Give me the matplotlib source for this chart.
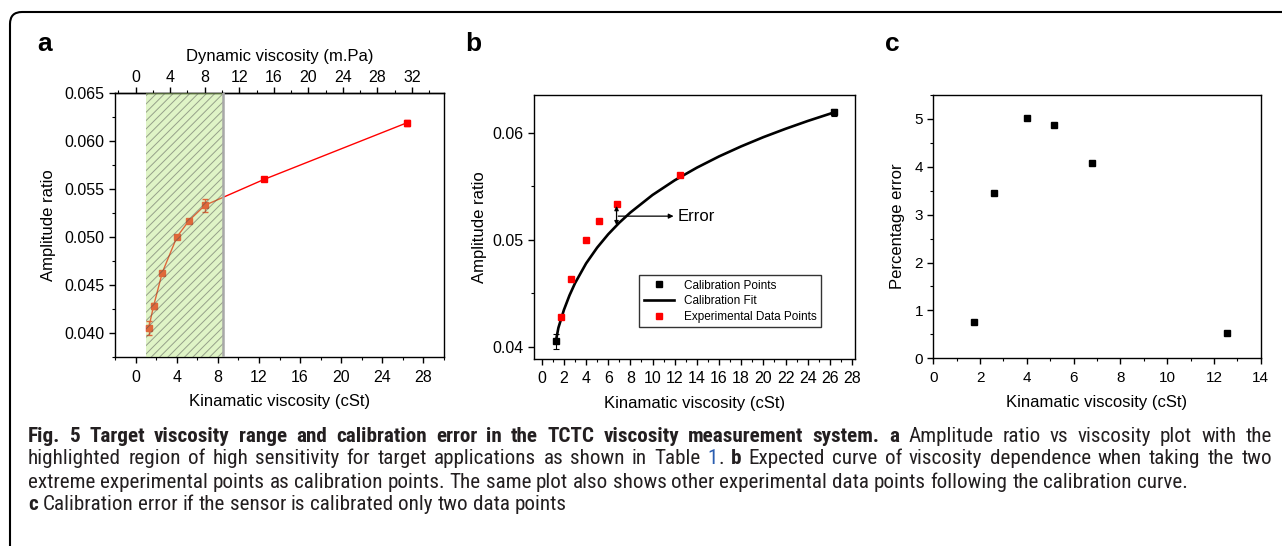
import matplotlib
matplotlib.use('Agg')
import matplotlib.pyplot as plt
from matplotlib import font_manager
from matplotlib.patches import FancyBboxPatch
from matplotlib.lines import Line2D
from matplotlib.ticker import MultipleLocator, FormatStrFormatter
from matplotlib.transforms import IdentityTransform

W, H = 1282, 546

# panel a / b data (kinematic viscosity in cSt vs amplitude ratio)
kin_visc = [1.27, 1.75, 2.6, 4.02, 5.19, 6.74, 12.5, 26.4]
amp_ratio = [0.0405, 0.0428, 0.0463, 0.0500, 0.0517, 0.0533, 0.0560, 0.0619]
amp_err = [0.0007, 0.0003, 0.0002, 0.0001, 0.0001, 0.0007, 0.0001, 0.0003]

# highlighted target range (cSt)
band_lo, band_hi = 1.04, 8.55
dyn_per_kin = 1.19  # top axis conversion

# calibration points and fit curve
calib_x = [1.27, 26.4]
calib_y = [0.0405, 0.0619]
calib_err = [0.0007, 0.0003]
exp_x = [1.75, 2.6, 4.0, 5.15, 6.75, 12.5]
exp_y = [0.0428, 0.0463, 0.0500, 0.0517, 0.0533, 0.0560]
fit_x = [1.27, 1.5, 2, 2.5, 3, 4, 5, 6, 7, 8, 10, 12, 14, 16, 18, 20, 22, 24, 26.4]
fit_y = [0.04050, 0.04176, 0.04344, 0.04479, 0.04593, 0.04778, 0.04926, 0.05051,
         0.05159, 0.05254, 0.05418, 0.05555, 0.05673, 0.05778, 0.05872, 0.05958,
         0.06036, 0.06109, 0.06190]

# panel c data
err_x = [1.75, 2.6, 4.0, 5.15, 6.78, 12.55]
pct_err = [0.75, 3.45, 5.02, 4.87, 4.08, 0.52]

plt.rcParams['font.family'] = ['Liberation Sans', 'DejaVu Sans']
plt.rcParams['hatch.linewidth'] = 0.7
plt.rcParams['axes.linewidth'] = 1.0

fig = plt.figure(figsize=(W / 100, H / 100), dpi=100)


def px_rect(left, top, right, bottom):
    return [left / W, 1 - bottom / H, (right - left) / W, (bottom - top) / H]


def style_ticks(ax, size, pad=5):
    ax.tick_params(which='major', direction='out', length=4, width=1, labelsize=size, pad=pad)
    ax.tick_params(which='minor', direction='out', length=2.2, width=0.8)


# ---------- panel a ----------
ax_a = fig.add_axes(px_rect(115, 93, 444, 357))
ax_a.plot(kin_visc, amp_ratio, color='red', lw=1, zorder=2)
ax_a.errorbar(kin_visc, amp_ratio, yerr=amp_err, fmt='s', color='red', ms=4.5,
              capsize=2, elinewidth=1, capthick=1, zorder=2)
ax_a.axvspan(band_lo, band_hi, facecolor=(0.73, 0.91, 0.51, 0.45),
             edgecolor=(0.3, 0.3, 0.3, 0.5), hatch='////', lw=0, zorder=3)
ax_a.axvline(band_hi, color='#a8a8a8', lw=1.8, zorder=3)
ax_a.set_xlim(-2, 30)
ax_a.set_ylim(0.0375, 0.065)
ax_a.set_xticks(range(0, 29, 4))
ax_a.xaxis.set_minor_locator(MultipleLocator(2))
ax_a.set_yticks([0.040, 0.045, 0.050, 0.055, 0.060, 0.065])
ax_a.yaxis.set_minor_locator(MultipleLocator(0.0025))
ax_a.yaxis.set_major_formatter(FormatStrFormatter('%.3f'))
style_ticks(ax_a, 11.5)
ax_a.tick_params(axis='y', pad=3.5)
ax_a.set_xlabel('Kinamatic viscosity (cSt)', fontsize=12, labelpad=7)
ax_a.set_ylabel('Amplitude ratio', fontsize=12, labelpad=6)

sec = ax_a.secondary_xaxis('top', functions=(lambda k: k * dyn_per_kin,
                                             lambda d: d / dyn_per_kin))
sec.set_xticks(range(0, 33, 4))
sec.xaxis.set_minor_locator(MultipleLocator(2))
style_ticks(sec, 11.5, pad=1.5)
sec.set_xlabel('Dynamic viscosity (m.Pa)', fontsize=12, labelpad=7)

# ---------- panel b ----------
ax_b = fig.add_axes(px_rect(534, 95, 855.3, 358.7))
ax_b.plot(fit_x, fit_y, color='black', lw=1.9, zorder=2)
ax_b.errorbar(calib_x, calib_y, yerr=calib_err, fmt='s', color='black', ms=4.5,
              capsize=2, elinewidth=0.8, capthick=0.8, zorder=3)
ax_b.plot(exp_x, exp_y, 's', color='red', ms=4.5, lw=0, zorder=3)
ax_b.annotate('', xy=(6.75, 0.05135), xytext=(6.75, 0.05315),
              arrowprops=dict(arrowstyle='<|-|>', color='black', lw=0.9,
                              mutation_scale=6, shrinkA=0, shrinkB=0))
ax_b.annotate('', xy=(11.9, 0.0522), xytext=(6.9, 0.0522),
              arrowprops=dict(arrowstyle='-|>', color='black', lw=0.9,
                              mutation_scale=7, shrinkA=0, shrinkB=0))
ax_b.text(12.3, 0.0522, 'Error', fontsize=12, va='center', ha='left')
ax_b.set_xlim(-0.7, 28.3)
ax_b.set_ylim(0.03888, 0.06352)
ax_b.set_xticks(range(0, 29, 2))
ax_b.xaxis.set_minor_locator(MultipleLocator(1))
ax_b.set_yticks([0.04, 0.05, 0.06])
ax_b.yaxis.set_minor_locator(MultipleLocator(0.005))
ax_b.yaxis.set_major_formatter(FormatStrFormatter('%.2f'))
style_ticks(ax_b, 11.5)
ax_b.tick_params(axis='y', pad=3.5)
ax_b.set_xlabel('Kinamatic viscosity (cSt)', fontsize=12, labelpad=7)
ax_b.set_ylabel('Amplitude ratio', fontsize=12, labelpad=4)
handles = [Line2D([], [], marker='s', color='black', lw=0, ms=4.5),
           Line2D([], [], color='black', lw=1.9),
           Line2D([], [], marker='s', color='red', lw=0, ms=4.5)]
leg = ax_b.legend(handles, ['Calibration Points', 'Calibration Fit',
                            'Experimental Data Points'],
                  loc='lower left', bbox_to_anchor=(0.328, 0.121), fontsize=8.5,
                  frameon=True, fancybox=False, edgecolor='black',
                  borderpad=0.35, labelspacing=0.3, handlelength=2.6,
                  handletextpad=0.8, borderaxespad=0)
leg.get_frame().set_linewidth(1.0)

# ---------- panel c ----------
ax_c = fig.add_axes(px_rect(933.3, 95, 1260.7, 358.3))
ax_c.plot(err_x, pct_err, 's', color='black', ms=4.8, lw=0)
ax_c.set_xlim(0, 14)
ax_c.set_ylim(0, 5.5)
ax_c.set_xticks(range(0, 15, 2))
ax_c.xaxis.set_minor_locator(MultipleLocator(1))
ax_c.set_yticks(range(0, 6))
ax_c.yaxis.set_minor_locator(MultipleLocator(0.5))
style_ticks(ax_c, 11)
ax_c.tick_params(axis='y', pad=3.5)
ax_c.set_xlabel('Kinamatic viscosity (cSt)', fontsize=12, labelpad=7)
ax_c.set_ylabel('Percentage error', fontsize=12, labelpad=7)

# panel letters
for lab, xp in [('a', 37), ('b', 465), ('c', 885)]:
    fig.text(xp / W, 1 - 44 / H, lab, fontsize=19, fontweight='bold',
             va='center', ha='left')

# outer rounded frame
frame = FancyBboxPatch((10, -40), 1320, 574, boxstyle='round,pad=0,rounding_size=12',
                       transform=IdentityTransform(), facecolor='none',
                       edgecolor='black', lw=1.5, clip_on=False)
fig.patches.append(frame)

# ---------- caption ----------
# pick a narrow family that really has a regular (or light) face
cap_family, R = 'Open Sans', 'normal'
for cand in ['Noto Sans Condensed', 'Liberation Sans Narrow', 'Open Sans Condensed',
             'DejaVu Sans Condensed', 'Roboto Condensed']:
    ws = [f.weight for f in font_manager.fontManager.ttflist
          if f.name == cand and f.style == 'normal']
    ws = [w for w in ws if isinstance(w, int)]
    if any(w <= 400 for w in ws):
        cap_family = cand
        R = min((w for w in ws if w <= 400), key=lambda w: 400 - w)
        break
B = 'bold'

cap_color = '#231f20'
blue = '#2a5db0'
cap_lines = [
    ([[(w, B)] for w in 'Fig. 5 Target viscosity range and calibration error in the TCTC viscosity measurement system. a'.split()]
     + [[(w, R)] for w in 'Amplitude ratio vs viscosity plot with the'.split()], True),
    ([[(w, R)] for w in 'highlighted region of high sensitivity for target applications as shown in Table'.split()]
     + [[('1', R, blue), ('.', R)], [('b', B)]]
     + [[(w, R)] for w in 'Expected curve of viscosity dependence when taking the two'.split()], True),
    ([[(w, R)] for w in ('extreme experimental points as calibration points. The same plot also '
                         'shows other experimental data points following the calibration curve.').split()], False),
    ([[('c', B)]] + [[(w, R)] for w in 'Calibration error if the sensor is calibrated only two data points'.split()], False),
]
cap_y = [436, 459, 482, 505]
x_left, x_right = 28, 1272
line_ends = [1266, None, 1037, 590]  # where the natural-spaced lines end

renderer = fig.canvas.get_renderer()


def measure(txt, weight, size):
    t = fig.text(0, 0, txt, fontsize=size, fontweight=weight, family=cap_family)
    w = t.get_window_extent(renderer).width
    t.remove()
    return w


def line_width(words, size, space):
    total = 0
    for word in words:
        for piece in word:
            total += measure(piece[0], piece[1], size)
    return total + space * (len(words) - 1)


base = 10
sp_base = measure('n n', R, base) - measure('nn', R, base)
sizes = []
for (words, _), end in zip(cap_lines, line_ends):
    if end is not None:
        sizes.append(base * (end - x_left) / line_width(words, base, sp_base))
cap_size = min(sum(sizes) / len(sizes), sizes[0])
space = sp_base * cap_size / base

for (words, justify), yc in zip(cap_lines, cap_y):
    widths = [[measure(p[0], p[1], cap_size) for p in word] for word in words]
    gap = space
    room = x_right - x_left - sum(sum(w) for w in widths)
    if justify or room < gap * (len(words) - 1):
        gap = room / (len(words) - 1)
    x = x_left
    for word, ws in zip(words, widths):
        for piece, pw in zip(word, ws):
            col = piece[2] if len(piece) > 2 else cap_color
            fig.text(x / W, 1 - yc / H, piece[0], fontsize=cap_size, fontweight=piece[1],
                     family=cap_family, color=col, va='center', ha='left')
            x += pw
        x += gap

fig.savefig('out.png', dpi=100)
